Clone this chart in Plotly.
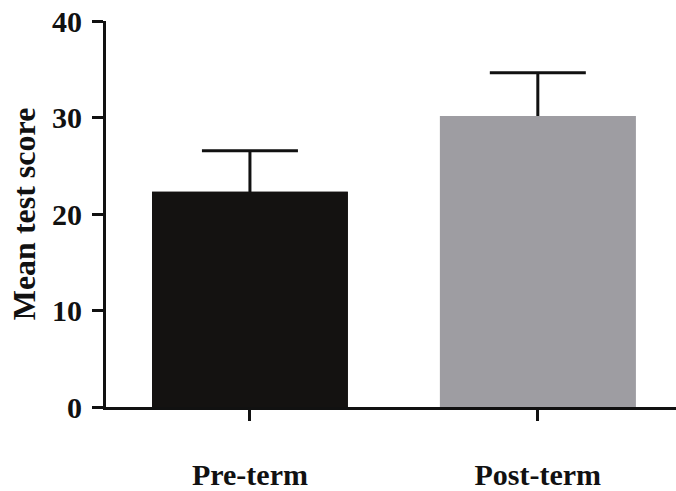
import plotly.graph_objects as go

categories = ["Pre-term", "Post-term"]
means = [22.3, 30.15]
errors = [4.25, 4.5]
bar_colors = ["#141211", "#9e9da2"]
y_ticks = [0, 10, 20, 30, 40]

FONT = "Liberation Serif, Times New Roman, serif"

fig = go.Figure()
# bars carrying the (symmetric) error bars
fig.add_trace(go.Bar(
    x=categories,
    y=means,
    marker=dict(color=bar_colors, line=dict(width=0)),
    width=0.68,
    error_y=dict(type="data", symmetric=True, array=errors,
                 color="#111111", thickness=3, width=48),
))
# identical bars on top hide the lower half of each error bar
fig.add_trace(go.Bar(
    x=categories,
    y=means,
    marker=dict(color=bar_colors, line=dict(width=0)),
    width=0.68,
))

fig.update_layout(
    width=676, height=491,
    margin=dict(l=106, r=0, t=21, b=84, autoexpand=False),
    plot_bgcolor="white", paper_bgcolor="white",
    showlegend=False,
    barmode="overlay",
    font=dict(family=FONT, color="#111111"),
)
fig.update_xaxes(
    range=[-0.5, 1.48],
    automargin=False,
    showline=True, linecolor="#111111", linewidth=3,
    ticks="outside", ticklen=11, tickwidth=3, tickcolor="#111111",
    tickfont=dict(family=FONT, size=30, weight="bold", color="#111111"),
    ticklabelstandoff=28,
    showgrid=False, zeroline=False,
)
fig.update_yaxes(
    range=[0, 40],
    automargin=False,
    tickvals=y_ticks,
    showline=True, linecolor="#111111", linewidth=3,
    ticks="outside", ticklen=11, tickwidth=3, tickcolor="#111111",
    tickfont=dict(family=FONT, size=30, weight="bold", color="#111111"),
    ticklabelstandoff=4,
    title=dict(text="Mean test score", standoff=7,
               font=dict(family=FONT, size=32, weight="bold", color="#111111")),
    showgrid=False, zeroline=False,
)

fig.write_html("out.html")
